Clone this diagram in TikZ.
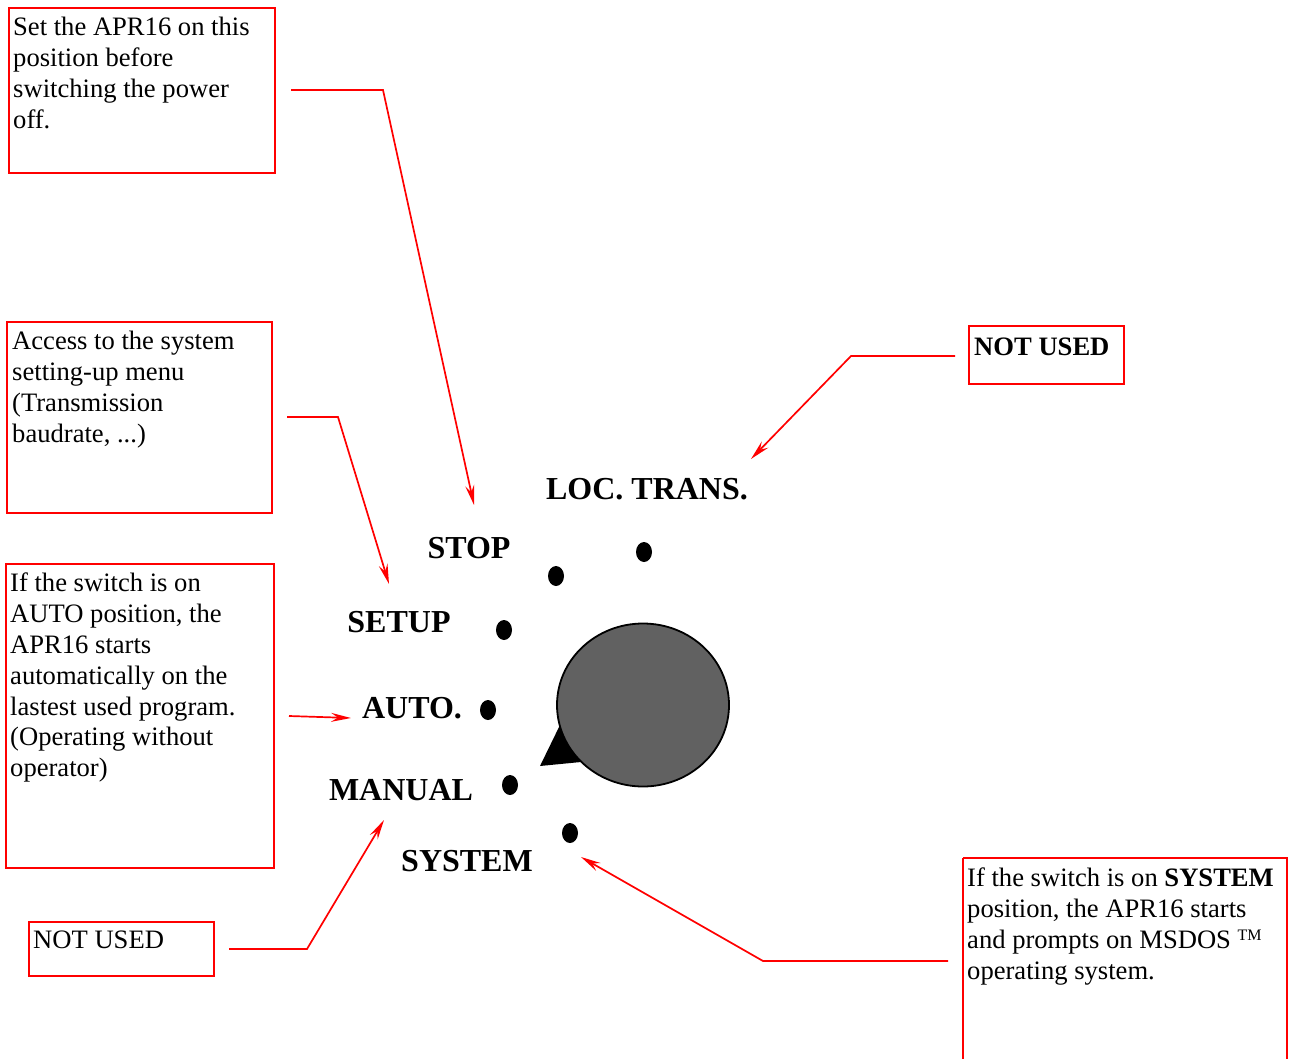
\documentclass[tikz,border=0pt]{standalone}
\usepackage{fontspec}
\setmainfont{Liberation Serif}
\usetikzlibrary{arrows.meta}
\begin{document}
\begin{tikzpicture}[x=1pt,y=-1pt,
  box/.style={draw=red,line width=1.8pt},
  boxtext/.style={anchor=north west,inner sep=0pt,align=left,font=\fontsize{26.6}{30.8}\selectfont},
  lbl/.style={inner sep=0pt,font=\fontsize{32}{36}\selectfont\bfseries},
  conn/.style={draw=red,line width=1.7pt,-{Stealth[length=20pt,width=9pt,inset=7pt]}},
  dot/.style={fill=black,draw=none}]
\useasboundingbox (0,0) rectangle (1289,1059);
% boxes
\draw[box] (9,8) rectangle (275,173);
\draw[box] (7,322) rectangle (272,513);
\draw[box] (6,564) rectangle (274,868);
\draw[box] (29,922) rectangle (214,976);
\draw[box] (969,326) rectangle (1124,384);
\draw[box] (963,858) -- (963,1065) (963,858) -- (1287,858) -- (1287,1065);
% box texts
\node[boxtext] (t1) at (13,17) {Set the APR16 on this\\position before\\switching the power\\off.};
\node[boxtext] (t2) at (12,331) {Access to the system\\setting-up menu\\(Transmission\\baudrate, ...)};
\node[boxtext] (t3) at (10,573) {If the switch is on\\AUTO position, the\\APR16 starts\\automatically on the\\lastest used program.\\(Operating without\\operator)};
\node[boxtext] (t4) at (33,931) {NOT USED};
\node[boxtext,font=\fontsize{26.6}{30.8}\selectfont\bfseries] (t5) at (974,338) {NOT USED};
\node[boxtext] (t6) at (967,868) {If the switch is on \textbf{SYSTEM}\\position, the APR16 starts\\and prompts on MSDOS \raisebox{0.3em}{\fontsize{16}{16}\selectfont TM}\\operating system.};
% knob
\fill[black] (540,766) -- (560,725) -- (581,762) -- cycle;
\draw[line width=1.8pt,fill=black!62] (643,705) ellipse [x radius=86, y radius=81.5];
% dots
\fill[dot] (644,552) ellipse [x radius=8, y radius=10];
\fill[dot] (556,576) ellipse [x radius=8, y radius=10];
\fill[dot] (504,630) ellipse [x radius=8, y radius=10];
\fill[dot] (488,710) ellipse [x radius=8, y radius=10];
\fill[dot] (510,785) ellipse [x radius=8, y radius=10];
\fill[dot] (570,833) ellipse [x radius=8, y radius=10];
% labels
\node[lbl] (loc) at (647,489) {LOC. TRANS.};
\node[lbl] (stop) at (469,548) {STOP};
\node[lbl] (setup) at (399,622) {SETUP};
\node[lbl] (auto) at (412,708) {AUTO.};
\node[lbl] (manual) at (401,790) {MANUAL};
\node[lbl] (system) at (467,861) {SYSTEM};
% connector endpoints
\coordinate (s1) at (291,90);
\coordinate (e1) at (474,505);
\coordinate (s2) at (287,417);
\coordinate (e2) at (389,584);
\coordinate (s3) at (289,716);
\coordinate (e3) at (351,718);
\coordinate (s4) at (229,949);
\coordinate (e4) at (384,820);
\coordinate (s5) at (955,356);
\coordinate (e5) at (751,459);
\coordinate (s6) at (948,961);
\coordinate (e6) at (581,857);
\draw[conn] (s1) -- (383,90) -- (e1);
\draw[conn] (s2) -- (338,417) -- (e2);
\draw[conn] (s3) -- (e3);
\draw[conn] (s4) -- (307,949) -- (e4);
\draw[conn] (s5) -- (851,356) -- (e5);
\draw[conn] (s6) -- (763,961) -- (e6);
\end{tikzpicture}
\end{document}
